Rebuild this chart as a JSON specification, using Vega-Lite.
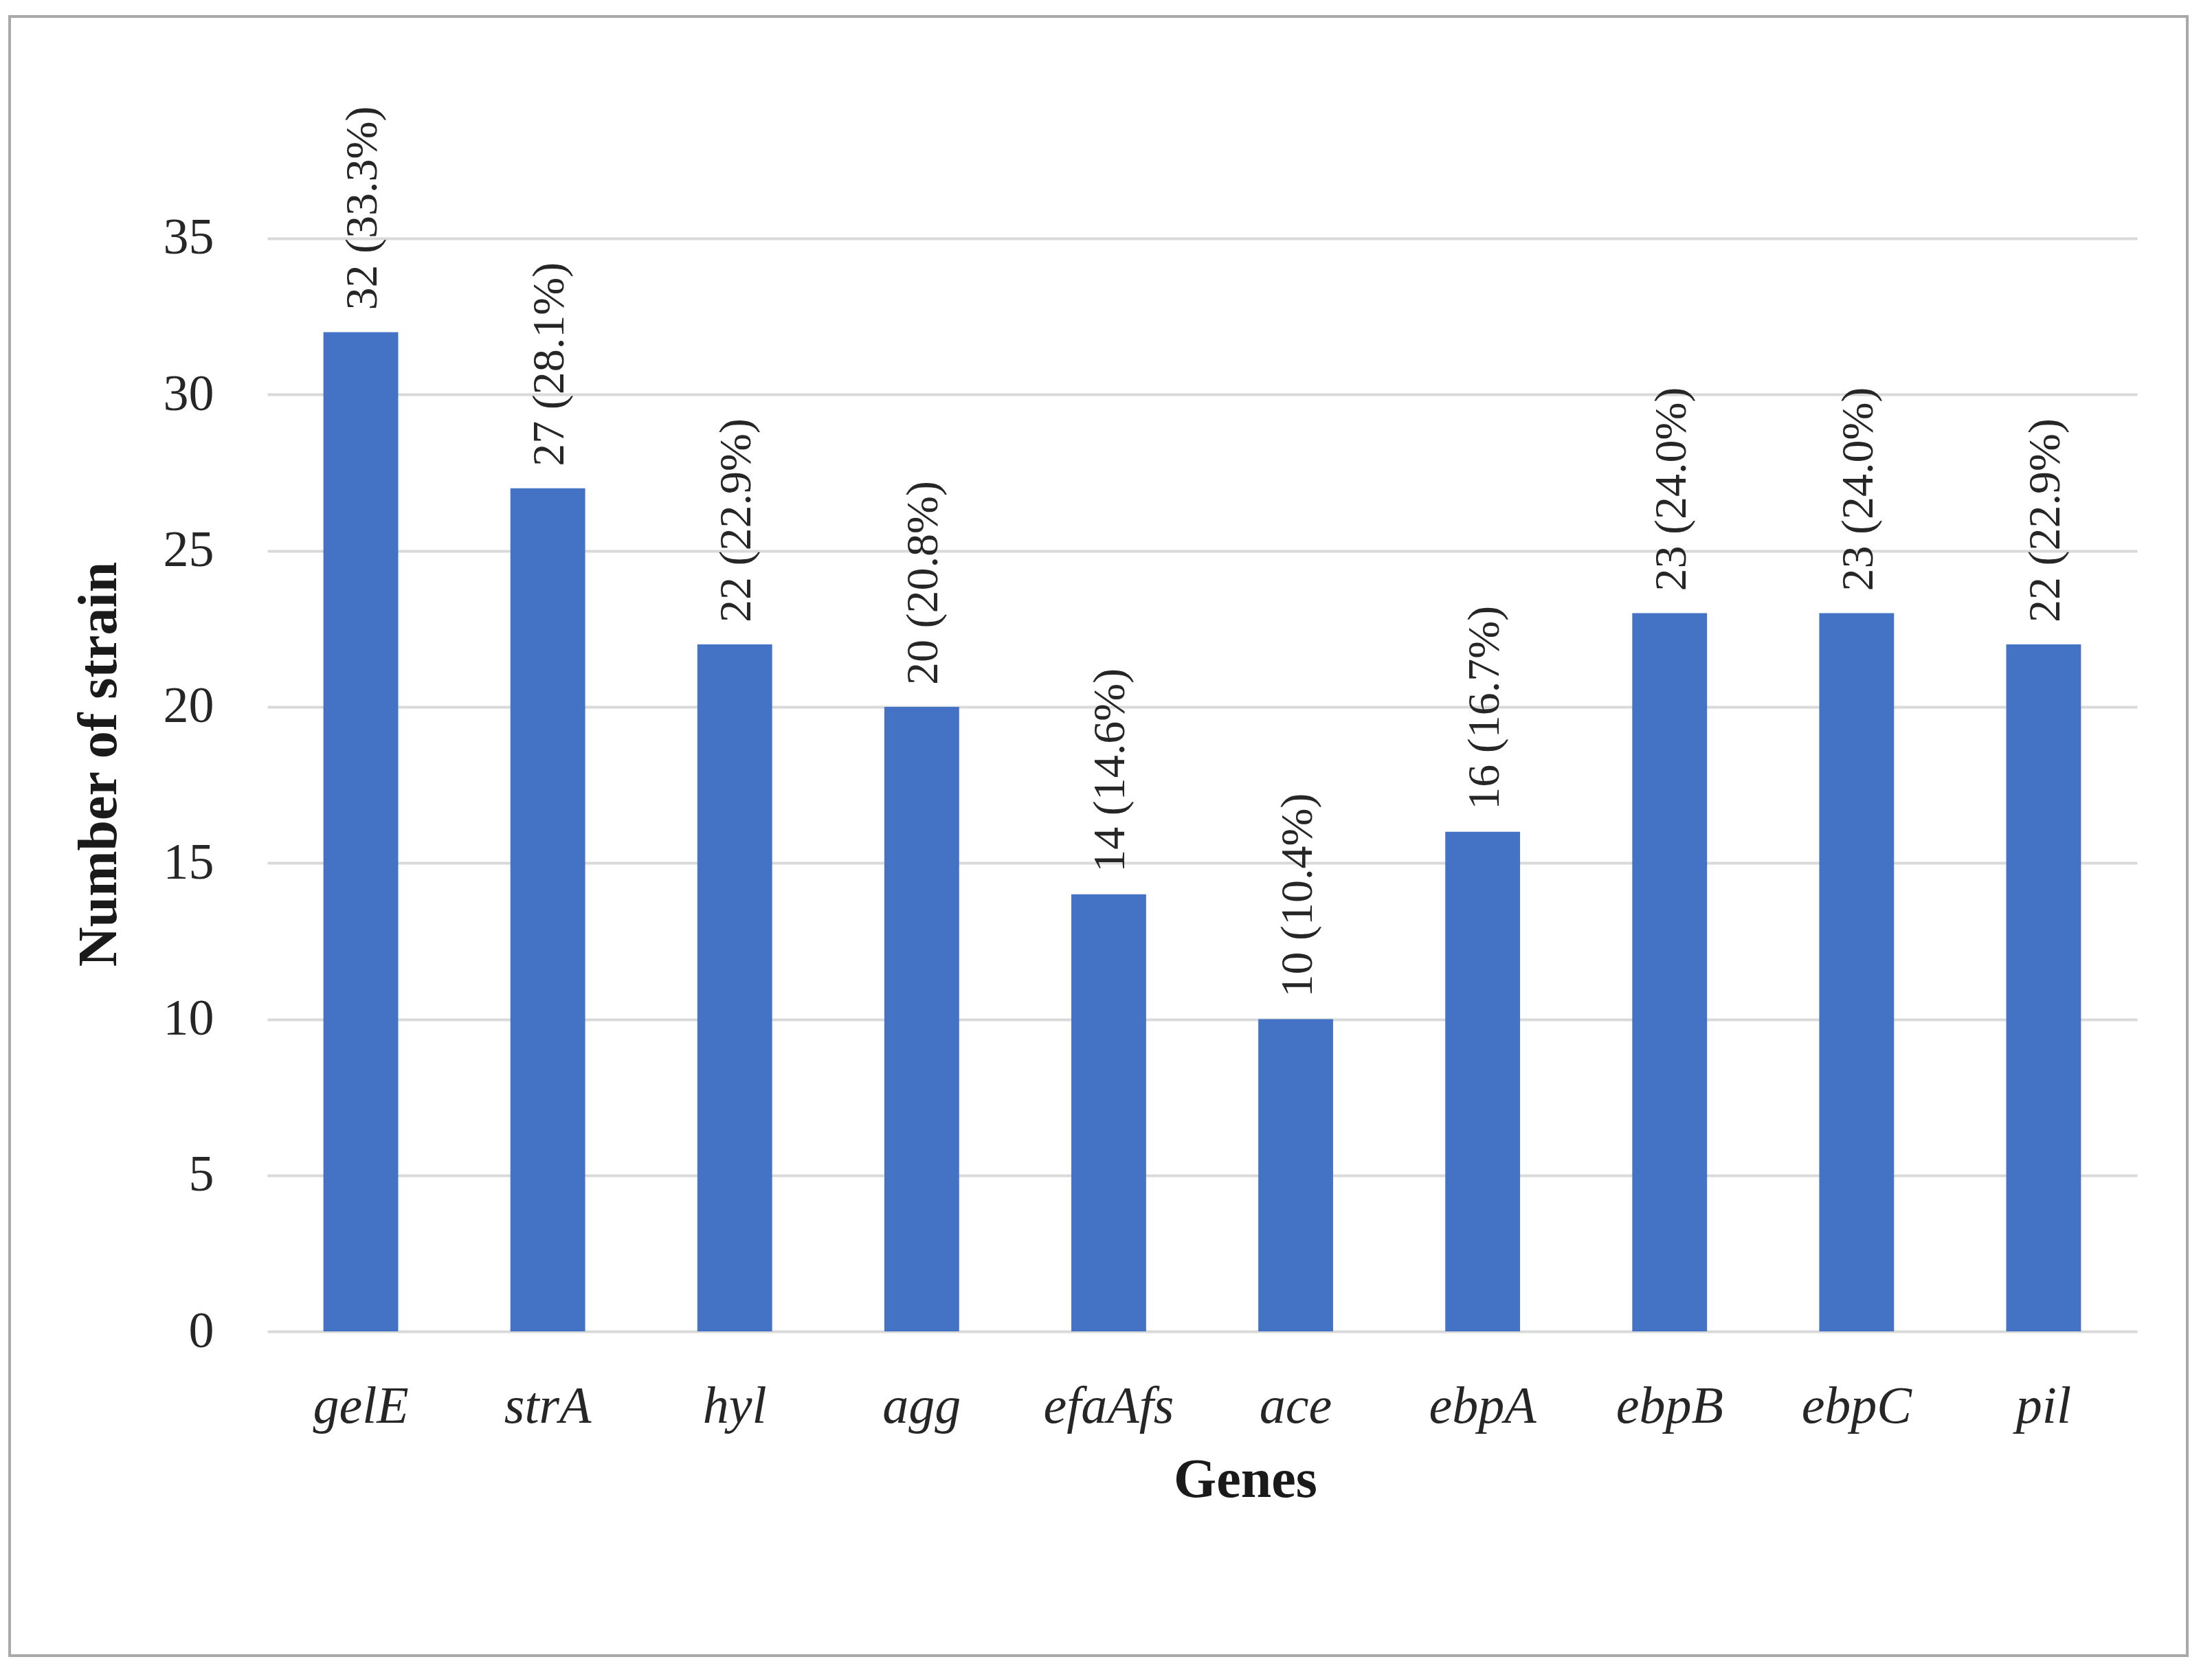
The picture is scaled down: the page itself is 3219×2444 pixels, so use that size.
{
  "$schema": "https://vega.github.io/schema/vega-lite/v6.json",
  "autosize": {"type": "none"},
  "width": 3169,
  "height": 2386,
  "padding": {"left": 14, "top": 24, "right": 36, "bottom": 34},
  "background": "white",
  "config": {
    "font": "Liberation Serif",
    "view": {"stroke": "#a9a9a9", "strokeWidth": 4},
    "axis": {"labelColor": "#262626", "titleColor": "#1a1a1a"}
  },
  "data": {
    "values": [
      {"gene": "gelE", "count": 32, "label": "32 (33.3%)"},
      {"gene": "strA", "count": 27, "label": "27 (28.1%)"},
      {"gene": "hyl", "count": 22, "label": "22 (22.9%)"},
      {"gene": "agg", "count": 20, "label": "20 (20.8%)"},
      {"gene": "efaAfs", "count": 14, "label": "14 (14.6%)"},
      {"gene": "ace", "count": 10, "label": "10 (10.4%)"},
      {"gene": "ebpA", "count": 16, "label": "16 (16.7%)"},
      {"gene": "ebpB", "count": 23, "label": "23 (24.0%)"},
      {"gene": "ebpC", "count": 23, "label": "23 (24.0%)"},
      {"gene": "pil", "count": 22, "label": "22 (22.9%)"}
    ]
  },
  "encoding": {
    "x": {
      "field": "gene",
      "type": "nominal",
      "sort": null,
      "scale": {"range": [375, 3096], "paddingInner": 0.6, "paddingOuter": 0.3},
      "axis": {
        "title": "Genes",
        "titleFontSize": 80,
        "titleFontWeight": "bold",
        "titleX": 1798,
        "titleY": 240,
        "titleBaseline": "alphabetic",
        "labelFontSize": 76,
        "labelFontStyle": "italic",
        "labelAngle": 0,
        "labelBaseline": "alphabetic",
        "labelPadding": 132,
        "labelLimit": 0,
        "ticks": false,
        "tickSize": 0,
        "domain": false,
        "grid": false,
        "offset": -472
      }
    },
    "y": {
      "field": "count",
      "type": "quantitative",
      "scale": {"domain": [-10.38, 42.105], "nice": false, "zero": false},
      "axis": {
        "title": "Number of strain",
        "titleFontSize": 80,
        "titleFontWeight": "bold",
        "titleAngle": -90,
        "titleX": -221,
        "titleY": 1088,
        "titleAlign": "center",
        "titleBaseline": "alphabetic",
        "values": [0, 5, 10, 15, 20, 25, 30, 35],
        "labelFontSize": 74,
        "labelPadding": 78,
        "ticks": false,
        "tickSize": 0,
        "domain": false,
        "grid": true,
        "gridColor": "#d9d9d9",
        "gridWidth": 4,
        "offset": -375
      }
    }
  },
  "layer": [
    {
      "mark": {"type": "bar", "color": "#4472C4"},
      "encoding": {"y2": {"datum": 0}}
    },
    {
      "mark": {
        "type": "text",
        "font": "Liberation Serif",
        "angle": 270,
        "align": "left",
        "baseline": "middle",
        "dx": 32,
        "dy": 3,
        "fontSize": 66,
        "color": "#262626"
      },
      "encoding": {"text": {"field": "label"}}
    }
  ]
}
